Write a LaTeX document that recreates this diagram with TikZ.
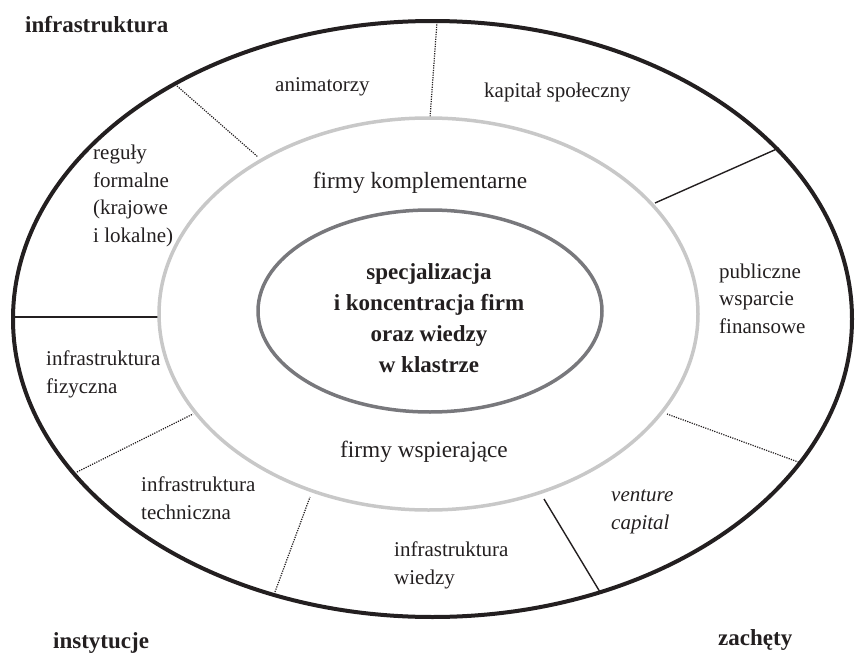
\documentclass[tikz,border=0pt]{standalone}
\usepackage{fontspec}
\setmainfont{Liberation Serif}
\definecolor{ink}{RGB}{35,31,32}
\definecolor{ringgray}{RGB}{200,200,200}
\definecolor{coregray}{RGB}{120,120,124}
\begin{document}
\begin{tikzpicture}[x=1pt,y=-1pt,
    lbl/.style={inner sep=0pt,text=ink,font=\fontsize{21}{27.5}\selectfont,align=left,anchor=base west},
    ringlbl/.style={inner sep=0pt,text=ink,font=\fontsize{23.3}{28}\selectfont,anchor=base},
    head/.style={inner sep=0pt,text=ink,font=\fontsize{23}{31}\selectfont\bfseries,anchor=base west},
    dotline/.style={line width=1.2pt,ink,dash pattern=on 1.2pt off 1.2pt},
    solidline/.style={line width=1.4pt,ink}]
  \useasboundingbox (0,0) rectangle (855,653);
  \coordinate (Oout) at (432.5,319);
  \coordinate (Omid) at (428.5,314);
  \coordinate (Ocore) at (430,311);
  \coordinate (D1o) at (177,86);
  \coordinate (D1i) at (258,157);
  \coordinate (D2o) at (437,22);
  \coordinate (D2i) at (430,118);
  \coordinate (D3o) at (779,148);
  \coordinate (D3i) at (655,203);
  \coordinate (D4o) at (14,317);
  \coordinate (D4i) at (159,317);
  \coordinate (D5o) at (77,472);
  \coordinate (D5i) at (193,414);
  \coordinate (D6o) at (275,592);
  \coordinate (D6i) at (310,497);
  \coordinate (D7o) at (600,592);
  \coordinate (D7i) at (544,499);
  \coordinate (D8o) at (801,463);
  \coordinate (D8i) at (667,414);
  \draw[dotline] (D1o) to (D1i);
  \draw[dotline] (D2o) to (D2i);
  \draw[solidline] (D3o) to (D3i);
  \draw[solidline] (D4o) to (D4i);
  \draw[dotline] (D5o) to (D5i);
  \draw[dotline] (D6o) to (D6i);
  \draw[solidline] (D7o) to (D7i);
  \draw[dotline] (D8o) to (D8i);
  \draw[line width=4pt,ink] (Oout) ellipse [x radius=419.5,y radius=298];
  \draw[line width=3.5pt,ringgray] (Omid) ellipse [x radius=269.5,y radius=196];
  \draw[line width=3.5pt,coregray] (Ocore) ellipse [x radius=172,y radius=101];
  \node[head] (infra) at (25,32) {infrastruktura};
  \node[head] (inst) at (53,648) {instytucje};
  \node[head] (zach) at (718,645) {zachęty};
  \node[head,align=center,anchor=base] (core) at (429,372) {specjalizacja\\i koncentracja firm\\oraz wiedzy\\w klastrze};
  \node[ringlbl] (komp) at (420,188) {firmy komplementarne};
  \node[ringlbl] (wsp) at (424,457) {firmy wspierające};
  \node[lbl] (anim) at (275,91) {animatorzy};
  \node[lbl] (kap) at (484,97) {kapitał społeczny};
  \node[lbl] (reg) at (93,242) {reguły\\formalne\\(krajowe\\i lokalne)};
  \node[lbl] (pub) at (719,333) {publiczne\\wsparcie\\finansowe};
  \node[lbl] (fiz) at (46,393) {infrastruktura\\fizyczna};
  \node[lbl] (tech) at (141,519) {infrastruktura\\techniczna};
  \node[lbl] (wied) at (394,584) {infrastruktura\\wiedzy};
  \node[lbl,font=\fontsize{21}{27.5}\selectfont\itshape] (vc) at (611,529) {venture\\capital};
\end{tikzpicture}
\end{document}
